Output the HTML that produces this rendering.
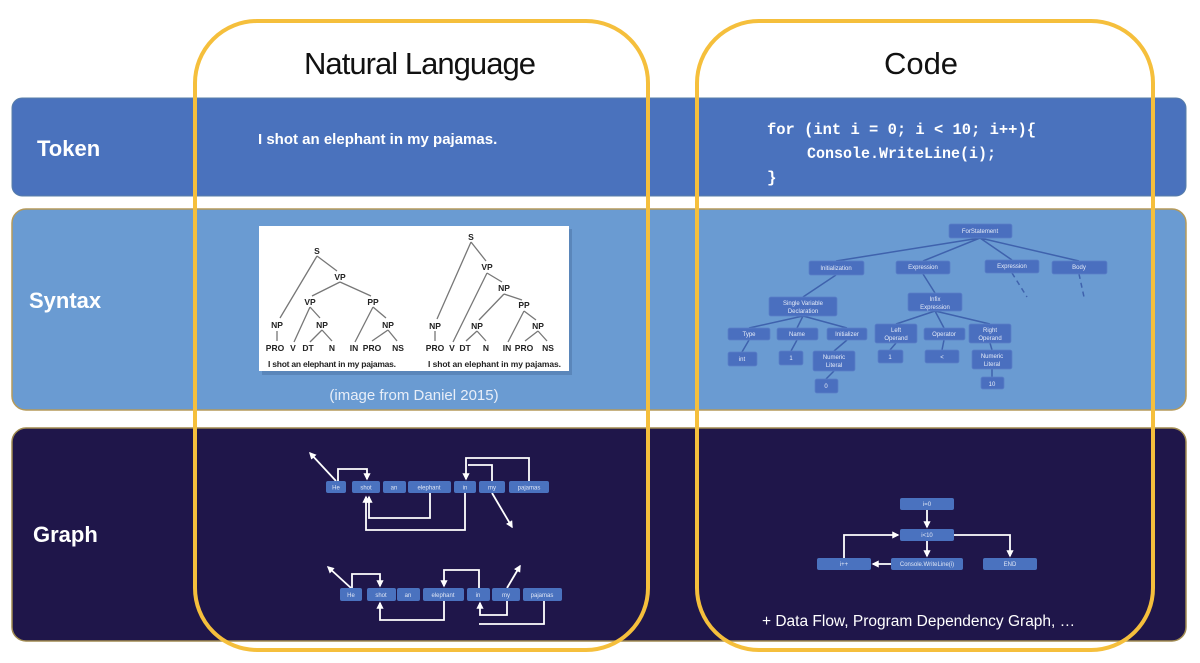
<!DOCTYPE html>
<html><head><meta charset="utf-8"><style>
html,body{margin:0;padding:0;background:#fff;width:1200px;height:663px;overflow:hidden}
svg{display:block}
</style></head><body>
<svg width="1200" height="663" viewBox="0 0 1200 663" xmlns="http://www.w3.org/2000/svg" font-family="Liberation Sans, sans-serif">
<defs>
<marker id="aw" viewBox="0 0 10 10" refX="8" refY="5" markerWidth="4" markerHeight="4" orient="auto-start-reverse"><path d="M0,0 L10,5 L0,10 z" fill="#fff"/></marker>
</defs>
<!-- bands -->
<rect x="12" y="98" width="1174" height="98" rx="10" fill="#4A72BD" stroke="#5a7fa8" stroke-width="1"/>
<rect x="12" y="209" width="1174" height="201" rx="14" fill="#6A9BD2" stroke="#b59a5a" stroke-width="1.5"/>
<rect x="12" y="428" width="1174" height="213" rx="14" fill="#1F164A" stroke="#a08a50" stroke-width="1.5"/>

<!-- headings -->
<text x="420" y="74" font-size="31" text-anchor="middle" fill="#111" textLength="232">Natural Language</text>
<text x="921" y="74" font-size="31" text-anchor="middle" fill="#111">Code</text>

<!-- row labels -->
<g fill="#fff" font-weight="bold" font-size="22">
<text x="37" y="156">Token</text>
<text x="29" y="308">Syntax</text>
<text x="33" y="542">Graph</text>
</g>

<!-- Token contents -->
<text x="258" y="144" font-size="15" font-weight="bold" fill="#fff">I shot an elephant in my pajamas.</text>
<g font-family="Liberation Mono, monospace" font-size="16" font-weight="bold" fill="#fff">
<text x="767" y="134" textLength="269" lengthAdjust="spacingAndGlyphs">for (int i = 0; i &lt; 10; i++){</text>
<text x="807" y="158" textLength="189" lengthAdjust="spacingAndGlyphs">Console.WriteLine(i);</text>
<text x="767" y="182">}</text>
</g>

<!-- parse tree image -->
<rect x="262" y="229" width="310" height="146" fill="#3d5f8f" opacity="0.35"/>
<rect x="259" y="226" width="310" height="145" fill="#fff"/>
<g stroke="#777" stroke-width="1.3" fill="none">
<path d="M317,256 L280,318 M317,256 L337,271 M340,282 L312,296 M340,282 L371,296 M310,307 L294,342 M310,307 L320,318 M277,331 L277,341 M322,330 L310,342 M322,330 L332,341 M373,307 L355,342 M373,307 L386,318 M388,330 L372,341 M388,330 L397,341"/>
<path d="M471,242 L437,319 M471,242 L486,261 M487,273 L453,342 M487,273 L502,282 M504,294 L479,320 M504,294 L522,300 M524,311 L508,342 M524,311 L536,320 M435,331 L435,341 M477,331 L466,341 M477,331 L486,341 M538,331 L525,341 M538,331 L547,341"/>
</g>
<g font-size="8.5" font-weight="bold" fill="#222" text-anchor="middle">
<text x="317" y="254">S</text><text x="340" y="280">VP</text><text x="310" y="305">VP</text><text x="373" y="305">PP</text>
<text x="277" y="328">NP</text><text x="322" y="328">NP</text><text x="388" y="328">NP</text>
<text x="275" y="351">PRO</text><text x="293" y="351">V</text><text x="308" y="351">DT</text><text x="332" y="351">N</text><text x="354" y="351">IN</text><text x="372" y="351">PRO</text><text x="398" y="351">NS</text>
<text x="471" y="240">S</text><text x="487" y="270">VP</text><text x="504" y="291">NP</text><text x="524" y="308">PP</text>
<text x="435" y="329">NP</text><text x="477" y="329">NP</text><text x="538" y="329">NP</text>
<text x="435" y="351">PRO</text><text x="452" y="351">V</text><text x="465" y="351">DT</text><text x="486" y="351">N</text><text x="507" y="351">IN</text><text x="524" y="351">PRO</text><text x="548" y="351">NS</text>
</g>
<g font-size="8.5" font-weight="bold" fill="#222">
<text x="268" y="367" textLength="128">I shot an elephant in my pajamas.</text>
<text x="428" y="367" textLength="133">I shot an elephant in my pajamas.</text>
</g>
<text x="414" y="400" font-size="15" fill="#e8eef8" text-anchor="middle">(image from Daniel 2015)</text>

<!-- AST -->
<g stroke="#3f62ad" stroke-width="1.5" fill="none">
<path d="M980,238 L836,261 M980,238 L923,261 M980,238 L1012,260 M980,238 L1079,261 M836,275 L803,297 M923,274 L935,293 M803,316 L749,328 M803,316 L797,328 M803,316 L847,328 M935,311 L896,324 M935,311 L944,328 M935,311 L990,324 M749,340 L742,352 M797,340 L791,351 M847,340 L834,351 M834,371 L826,379 M896,343 L890,350 M944,340 L942,350 M990,343 L992,350 M992,369 L992,377"/>
<path d="M1012,273 L1027,297 M1079,274 L1084,297" stroke-dasharray="5,4"/>
</g>
<g fill="#4A6FBF" stroke="#5a80c8" stroke-width="0.8">
<rect x="949" y="224" width="63" height="14" rx="2"/>
<rect x="809" y="261" width="55" height="14" rx="2"/>
<rect x="896" y="261" width="54" height="13" rx="2"/>
<rect x="985" y="260" width="54" height="13" rx="2"/>
<rect x="1052" y="261" width="55" height="13" rx="2"/>
<rect x="769" y="297" width="68" height="19" rx="2"/>
<rect x="908" y="293" width="54" height="18" rx="2"/>
<rect x="728" y="328" width="42" height="12" rx="2"/>
<rect x="777" y="328" width="41" height="12" rx="2"/>
<rect x="827" y="328" width="40" height="12" rx="2"/>
<rect x="875" y="324" width="42" height="19" rx="2"/>
<rect x="924" y="328" width="41" height="12" rx="2"/>
<rect x="969" y="324" width="42" height="19" rx="2"/>
<rect x="728" y="352" width="29" height="14" rx="2"/>
<rect x="779" y="351" width="24" height="14" rx="2"/>
<rect x="813" y="351" width="42" height="20" rx="2"/>
<rect x="815" y="379" width="23" height="14" rx="2"/>
<rect x="878" y="350" width="25" height="13" rx="2"/>
<rect x="925" y="350" width="34" height="13" rx="2"/>
<rect x="972" y="350" width="40" height="19" rx="2"/>
<rect x="981" y="377" width="23" height="12" rx="2"/>
</g>
<g font-size="6" fill="#e6ecf8" text-anchor="middle">
<text x="980" y="233">ForStatement</text>
<text x="836" y="270">Initialization</text>
<text x="923" y="269">Expression</text>
<text x="1012" y="268">Expression</text>
<text x="1079" y="269">Body</text>
<text x="803" y="305">Single Variable</text><text x="803" y="313">Declaration</text>
<text x="935" y="301">Infix</text><text x="935" y="309">Expression</text>
<text x="749" y="336">Type</text><text x="797" y="336">Name</text><text x="847" y="336">Initializer</text>
<text x="896" y="332">Left</text><text x="896" y="340">Operand</text>
<text x="944" y="336">Operator</text>
<text x="990" y="332">Right</text><text x="990" y="340">Operand</text>
<text x="742" y="361">int</text><text x="791" y="360">1</text>
<text x="834" y="359">Numeric</text><text x="834" y="367">Literal</text>
<text x="826" y="388">0</text><text x="890" y="359">1</text><text x="942" y="359">&lt;</text>
<text x="992" y="358">Numeric</text><text x="992" y="366">Literal</text>
<text x="992" y="386">10</text>
</g>

<!-- NL graphs -->
<g fill="none" stroke="#fff" stroke-width="1.8">
<path d="M336,481 L310,453" marker-end="url(#aw)"/>
<path d="M338,481 L338,469 L367,469 L367,479" marker-end="url(#aw)"/>
<path d="M430,493 L430,518 L369,518 L369,497" marker-end="url(#aw)"/>
<path d="M465,493 L465,530 L366,530 L366,497" marker-end="url(#aw)"/>
<path d="M529,481 L529,458 L466,458 L466,479" marker-end="url(#aw)"/>
<path d="M492,481 L492,465 L468,465"/>
<path d="M492,493 L512,527" marker-end="url(#aw)"/>
<path d="M351,588 L328,567" marker-end="url(#aw)"/>
<path d="M352,588 L352,574 L380,574 L380,586" marker-end="url(#aw)"/>
<path d="M479,588 L479,570 L444,570 L444,586" marker-end="url(#aw)"/>
<path d="M444,601 L444,620 L380,620 L380,603" marker-end="url(#aw)"/>
<path d="M507,588 L520,566" marker-end="url(#aw)"/>
<path d="M507,601 L507,615 L480,615 L480,603" marker-end="url(#aw)"/>
<path d="M544,601 L544,624 L479,624"/>
</g>
<g fill="#4A72BF">
<rect x="326" y="481" width="20" height="12" rx="2"/><rect x="352" y="481" width="28" height="12" rx="2"/><rect x="383" y="481" width="23" height="12" rx="2"/><rect x="408" y="481" width="43" height="12" rx="2"/><rect x="454" y="481" width="22" height="12" rx="2"/><rect x="479" y="481" width="26" height="12" rx="2"/><rect x="509" y="481" width="40" height="12" rx="2"/>
<rect x="340" y="588" width="22" height="13" rx="2"/><rect x="367" y="588" width="29" height="13" rx="2"/><rect x="397" y="588" width="23" height="13" rx="2"/><rect x="423" y="588" width="41" height="13" rx="2"/><rect x="467" y="588" width="23" height="13" rx="2"/><rect x="492" y="588" width="28" height="13" rx="2"/><rect x="523" y="588" width="39" height="13" rx="2"/>
</g>
<g font-size="6" fill="#dfe6f5" text-anchor="middle">
<text x="336" y="489.5">He</text><text x="366" y="489.5">shot</text><text x="394" y="489.5">an</text><text x="429" y="489.5">elephant</text><text x="465" y="489.5">in</text><text x="492" y="489.5">my</text><text x="529" y="489.5">pajamas</text>
<text x="351" y="597">He</text><text x="381" y="597">shot</text><text x="408" y="597">an</text><text x="443" y="597">elephant</text><text x="478" y="597">in</text><text x="506" y="597">my</text><text x="542" y="597">pajamas</text>
</g>

<!-- CFG -->
<g fill="none" stroke="#fff" stroke-width="1.8">
<path d="M927,510 L927,527" marker-end="url(#aw)"/>
<path d="M927,541 L927,556" marker-end="url(#aw)"/>
<path d="M954,535 L1010,535 L1010,556" marker-end="url(#aw)"/>
<path d="M891,564 L873,564" marker-end="url(#aw)"/>
<path d="M844,558 L844,535 L898,535" marker-end="url(#aw)"/>
</g>
<g fill="#4A72BF">
<rect x="900" y="498" width="54" height="12" rx="2"/><rect x="900" y="529" width="54" height="12" rx="2"/><rect x="817" y="558" width="54" height="12" rx="2"/><rect x="891" y="558" width="72" height="12" rx="2"/><rect x="983" y="558" width="54" height="12" rx="2"/>
</g>
<g font-size="6" fill="#dfe6f5" text-anchor="middle">
<text x="927" y="506">i=0</text><text x="927" y="537">i&lt;10</text><text x="844" y="566">i++</text><text x="927" y="566">Console.WriteLine(i)</text><text x="1010" y="566">END</text>
</g>
<text x="762" y="626" font-size="15.5" fill="#fff">+ Data Flow, Program Dependency Graph, …</text>

<!-- yellow frames -->
<rect x="195" y="21" width="453" height="629" rx="62" fill="none" stroke="#F5BF3C" stroke-width="4"/>
<rect x="697" y="21" width="456" height="629" rx="62" fill="none" stroke="#F5BF3C" stroke-width="4"/>
</svg>
</body></html>
